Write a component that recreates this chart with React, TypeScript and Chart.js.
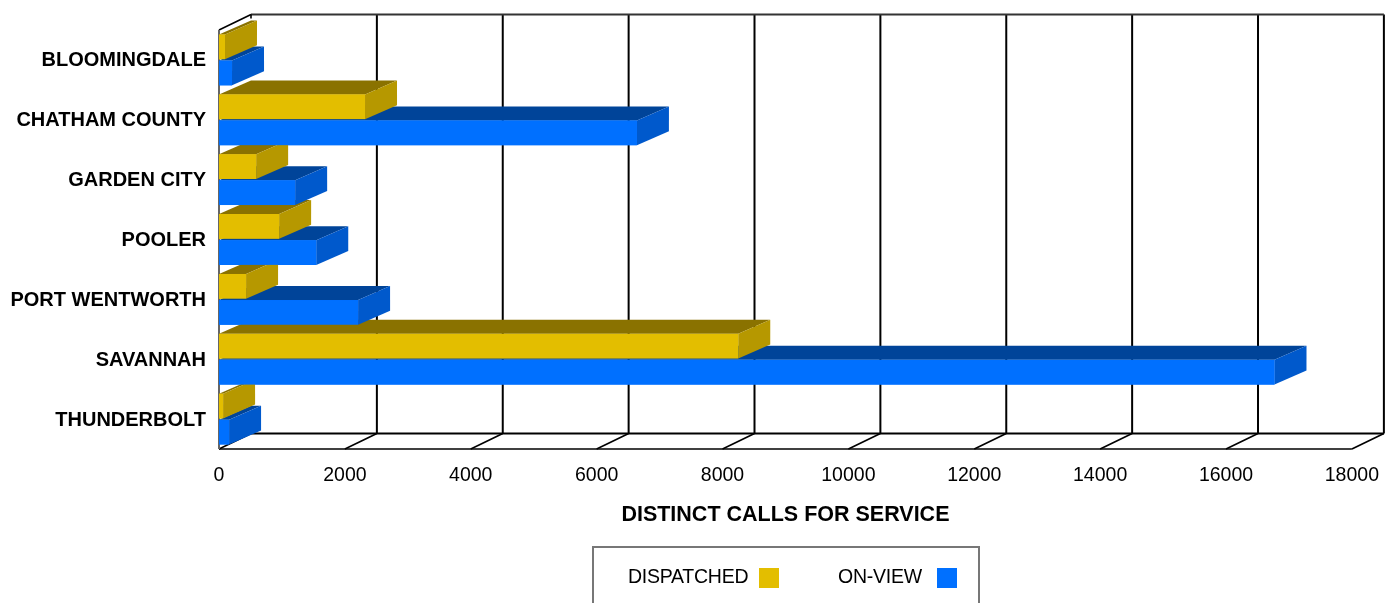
import React, { useEffect, useRef } from "react";
import { Chart, registerables } from "chart.js";

Chart.register(...registerables);

const categories = [
  "BLOOMINGDALE",
  "CHATHAM COUNTY",
  "GARDEN CITY",
  "POOLER",
  "PORT WENTWORTH",
  "SAVANNAH",
  "THUNDERBOLT",
];
const dispatched = [95, 2320, 590, 955, 430, 8250, 65];
const onView = [207, 6640, 1210, 1545, 2210, 16770, 160];

const AXIS_MAX = 18000;
const AXIS_STEP = 2000;
const AXIS_TITLE = "DISTINCT CALLS FOR SERVICE";
const FONT = "'Liberation Sans', Arial, sans-serif";

const YELLOW = { front: "#E3BE00", side: "#B69800", top: "#8A7200" };
const BLUE = { front: "#0070FF", side: "#0059CC", top: "#004499" };
const faces = [YELLOW, BLUE];

// Depth of the extruded plot box and of the bars inside it
const BOX_DX = 32;
const BOX_DY = 15.5;
const BAR_DX = 32;
const BAR_DY = 14;

function polygon(ctx: CanvasRenderingContext2D, pts: number[][], fill: string) {
  ctx.beginPath();
  pts.forEach(([x, y], i) => (i ? ctx.lineTo(x, y) : ctx.moveTo(x, y)));
  ctx.closePath();
  ctx.fillStyle = fill;
  ctx.fill();
}

function line(
  ctx: CanvasRenderingContext2D,
  x1: number,
  y1: number,
  x2: number,
  y2: number,
  width: number,
  color = "#000",
) {
  ctx.beginPath();
  ctx.moveTo(x1, y1);
  ctx.lineTo(x2, y2);
  ctx.lineWidth = width;
  ctx.strokeStyle = color;
  ctx.stroke();
}

// Back wall and floor of the box, with one grid line per axis tick
const boxPlugin = {
  id: "box3d",
  beforeDatasetsDraw(chart: any) {
    const { ctx, chartArea, scales } = chart;
    const { left, top, bottom } = chartArea;
    const backTop = top - BOX_DY;
    const backBottom = bottom - BOX_DY;
    ctx.save();
    scales.x.ticks.forEach((tick: any, i: number) => {
      const x = scales.x.getPixelForValue(tick.value);
      if (i > 0) line(ctx, x + BOX_DX, backTop, x + BOX_DX, backBottom, 2);
      line(ctx, x, bottom, x + BOX_DX, backBottom, 1.6);
    });
    const backRight = scales.x.getPixelForValue(AXIS_MAX) + BOX_DX;
    line(ctx, left + BOX_DX, backTop, backRight, backTop, 2, "#333");
    line(ctx, left + BOX_DX, backBottom, backRight, backBottom, 2);
    line(ctx, left, bottom, scales.x.getPixelForValue(AXIS_MAX), bottom, 1.6);
    line(ctx, left, top, left + BOX_DX, backTop, 1.6);
    line(ctx, left + BOX_DX, backTop, left + BOX_DX, backTop + 4, 1.6);
    line(ctx, left, top, left, bottom, 2, "#666");
    ctx.restore();
  },
  // Extrusions are painted from the lowest bar upward so nearer faces overlap further ones
  afterDatasetsDraw(chart: any) {
    const { ctx } = chart;
    ctx.save();
    for (let c = categories.length - 1; c >= 0; c--) {
      for (let d = faces.length - 1; d >= 0; d--) {
        const bar = chart.getDatasetMeta(d).data[c];
        const { x, y, base, height } = bar.getProps(["x", "y", "base", "height"], true);
        const t = y - height / 2;
        const b = y + height / 2;
        const colors = faces[d];
        polygon(ctx, [[base, t], [x, t], [x + BAR_DX, t - BAR_DY], [base + BAR_DX, t - BAR_DY]], colors.top);
        polygon(ctx, [[x, t], [x + BAR_DX, t - BAR_DY], [x + BAR_DX, b - BAR_DY], [x, b]], colors.side);
        ctx.fillStyle = colors.front;
        ctx.fillRect(base, t, x - base, height);
      }
    }
    ctx.restore();
  },
  // Framed legend, cut off by the lower edge of the canvas
  afterDraw(chart: any) {
    const { ctx } = chart;
    ctx.save();
    ctx.strokeStyle = "#777";
    ctx.lineWidth = 2;
    ctx.strokeRect(593, 547, 386, 80);
    ctx.font = `19.5px ${FONT}`;
    ctx.textBaseline = "middle";
    ctx.textAlign = "left";
    (ctx as any).letterSpacing = "-0.25px";
    const entries = [
      { text: 628, swatch: 759 },
      { text: 838, swatch: 937 },
    ];
    chart.data.datasets.forEach((ds: any, i: number) => {
      ctx.fillStyle = "#000";
      ctx.fillText(ds.label, entries[i].text, 578);
      ctx.fillStyle = ds.backgroundColor;
      ctx.fillRect(entries[i].swatch, 568, 20, 20);
    });
    ctx.restore();
  },
};

export default function App() {
  const ref = useRef<HTMLCanvasElement>(null);

  useEffect(() => {
    const chart = new Chart(ref.current!, {
      type: "bar",
      data: {
        labels: categories,
        datasets: [
          { label: "DISPATCHED", data: dispatched, backgroundColor: YELLOW.front },
          { label: "ON-VIEW", data: onView, backgroundColor: BLUE.front },
        ],
      },
      options: {
        indexAxis: "y",
        animation: false,
        responsive: false,
        categoryPercentage: 0.87,
        barPercentage: 0.95,
        layout: { autoPadding: false, padding: { top: 30, right: 33, left: 0, bottom: 0 } },
        plugins: { legend: { display: false }, tooltip: { enabled: false } },
        scales: {
          x: {
            type: "linear",
            min: 0,
            max: AXIS_MAX,
            grid: { display: false },
            border: { display: false },
            ticks: {
              stepSize: AXIS_STEP,
              maxRotation: 0,
              autoSkip: false,
              padding: 7,
              color: "#000",
              font: { family: FONT, size: 19.5 },
              callback: (value: number) => String(value),
            },
            title: {
              display: true,
              text: AXIS_TITLE,
              color: "#000",
              font: { family: FONT, size: 21.5, weight: "bold" },
              padding: { top: 0, bottom: 75 },
            },
            afterFit(scale: any) {
              scale.height = 154;
            },
          },
          y: {
            grid: { display: false },
            border: { display: false },
            ticks: {
              padding: 5,
              color: "#000",
              autoSkip: false,
              labelOffset: 1,
              font: { family: FONT, size: 20, weight: "bold" },
            },
            afterFit(scale: any) {
              scale.width = 219;
            },
          },
        },
      },
      plugins: [boxPlugin],
    } as any);
    return () => chart.destroy();
  }, []);

  return (
    <canvas
      ref={ref}
      width={1386}
      height={603}
      style={{ position: "absolute", left: 0, top: 0, width: 1386, height: 603 }}
    />
  );
}
